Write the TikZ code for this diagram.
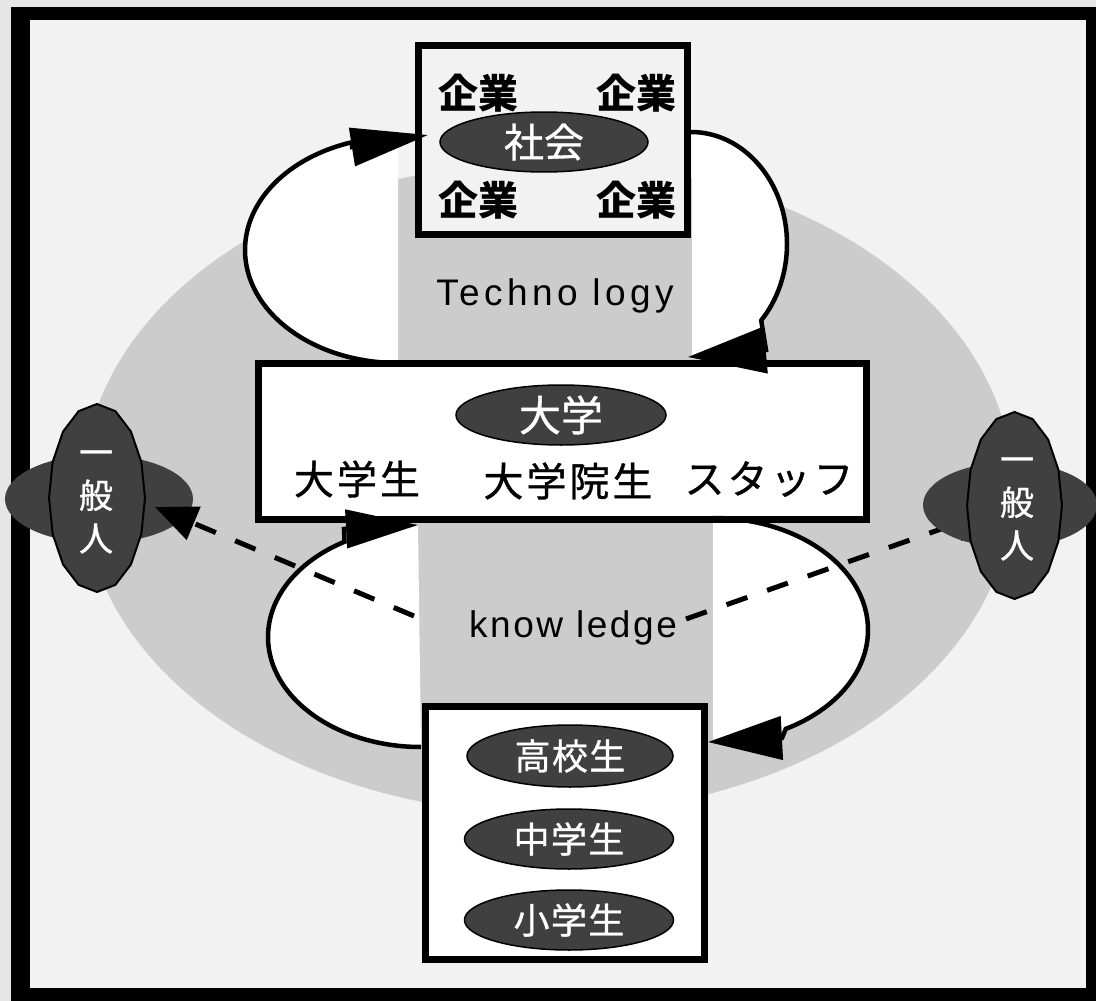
\documentclass[tikz,border=0pt]{standalone}
\usepackage{fontspec}
\usetikzlibrary{arrows.meta,shapes.geometric}
\newfontfamily\jpfont{Noto Sans CJK JP}
\newfontfamily\latfont{Liberation Sans}
\definecolor{bgout}{HTML}{E6E6E6}
\definecolor{bgin}{HTML}{F2F2F2}
\definecolor{ring}{HTML}{CCCCCC}
\definecolor{darkfill}{HTML}{404040}
\begin{document}
\begin{tikzpicture}[x=1pt,y=-1pt,
  box/.style={draw=black,line width=7pt,rectangle,inner sep=0pt},
  oval/.style={draw=black,line width=1.5pt,fill=darkfill,ellipse,inner sep=0pt,text=white},
  loopline/.style={draw=black,line width=4.5pt},
  dashline/.style={draw=black,line width=5pt,dash pattern=on 22pt off 21pt},
  bigjp/.style={font=\jpfont\fontsize{40}{48}\selectfont\addfontfeature{LetterSpace=7.5,FakeBold=0.8}},
  firm/.style={font=\jpfont\bfseries\fontsize{40}{48}\selectfont},
  ovaltext/.style={font=\jpfont\fontsize{36}{44}\selectfont\addfontfeature{LetterSpace=4,FakeBold=0.8}},
  vert/.style={font=\jpfont\fontsize{34}{43}\selectfont\addfontfeature{FakeBold=1},text=white,align=center,inner sep=0pt},
  poly/.style={draw=black,line width=2pt,fill=darkfill},
  flat/.style={draw=none,fill=darkfill,ellipse,inner sep=0pt}
]
\useasboundingbox (0,0) rectangle (1096,1001);
% background and frame
\fill[bgout] (0,0) rectangle (1096,1001);
\fill[black] (11,7) rectangle (1096,1001);
\fill[bgin] (30,20) rectangle (1086,988);
% grey ring
\fill[ring] (548,488) ellipse [x radius=465pt, y radius=326pt];

% loop endpoints (start, arrow base, arrow tip)
\coordinate (t1s) at (398,363);
\coordinate (t1b) at (352,147);
\coordinate (t1e) at (428,135);
\coordinate (t2s) at (691,132);
\coordinate (t2b) at (766,350);
\coordinate (t2e) at (688,357);
\coordinate (b1s) at (421,747);
\coordinate (b1b) at (344,529);
\coordinate (b1e) at (418,525);
\coordinate (b2s) at (713,518);
\coordinate (b2b) at (782,738);
\coordinate (b2e) at (708,742);

\def\arcA{arc[start angle=270,end angle=107.5,x radius=153pt,y radius=113pt]}
\def\arcB{arc[start angle=90,end angle=-43,x radius=96pt,y radius=112pt]}
\def\arcC{arc[start angle=270,end angle=120,x radius=153pt,y radius=110pt]}
\def\arcD{arc[start angle=90,end angle=-62,x radius=155pt,y radius=112pt]}

% white interiors of loops
\begin{scope}
\clip (0,0) rectangle (398,1001);
\fill[white] (t1s) \arcA -- (t1b) -- (t1e) -- cycle;
\end{scope}
\begin{scope}
\clip (692,0) rectangle (1096,1001);
\fill[white] (t2s) \arcB -- (t2b) -- (t2e) -- cycle;
\end{scope}
\begin{scope}
\clip (0,0) rectangle (422,1001);
\fill[white] (b1s) \arcC -- (b1b) -- (b1e) -- cycle;
\end{scope}
\begin{scope}
\clip (713,0) rectangle (1096,1001);
\fill[white] (b2s) \arcD -- (b2b) -- (b2e) -- cycle;
\end{scope}

% boxes
\node[box,fill=bgin,minimum width=269pt,minimum height=189pt] (society) at (553,140) {};
\node[box,fill=white,minimum width=608pt,minimum height=156pt] (univ) at (562.5,441.5) {};
\node[box,fill=white,minimum width=279pt,minimum height=253pt] (school) at (565,833) {};

% society box content
\node[firm] (f1) at (478,93) {企業};
\node[firm] (f2) at (636,93) {企業};
\node[firm] (f3) at (478,200) {企業};
\node[firm] (f4) at (636,200) {企業};
\node[oval,minimum width=208pt,minimum height=60pt,font=\jpfont\fontsize{40}{48}\selectfont\addfontfeature{FakeBold=0.8}] (soc) at (544,142) {社会};

% university box content
\node[oval,minimum width=210pt,minimum height=60pt,font=\jpfont\fontsize{42}{50}\selectfont\addfontfeature{FakeBold=0.8}] (dai) at (561,415) {大学};
\node[bigjp] (u1) at (357,479) {大学生};
\node[bigjp] (u2) at (568,481) {大学院生};
\node[bigjp] (u3) at (769,479) {スタッフ};

% school box content
\node[oval,ovaltext,minimum width=206pt,minimum height=62pt] (hs) at (570,756) {高校生};
\node[oval,ovaltext,minimum width=209pt,minimum height=60pt] (ms) at (569,839) {中学生};
\node[oval,ovaltext,minimum width=209pt,minimum height=60pt] (es) at (569,920) {小学生};

% labels
\node[anchor=base,inner sep=0pt,font=\latfont\fontsize{37}{44}\selectfont\addfontfeature{LetterSpace=12}] (tech) at (555,305) {Techno logy};
\node[anchor=base,inner sep=0pt,font=\latfont\fontsize{37}{44}\selectfont\addfontfeature{LetterSpace=7}] (know) at (573,637) {know ledge};

% loops
\draw[loopline,-{Triangle[length=77pt,width=38pt]}] (t1s) \arcA -- (t1b) -- (t1e);
\draw[loopline,-{Triangle[length=78pt,width=46pt]}] (t2s) \arcB -- (t2b) -- (t2e);
\draw[loopline,-{Triangle[length=72pt,width=38pt]}] (b1s) \arcC -- (b1b) -- (b1e);
\draw[loopline,-{Triangle[length=74pt,width=43pt]}] (b2s) \arcD -- (b2b) -- (b2e);

% right dashed arrow (under the right figure)
\coordinate (kr) at (686,619);
\coordinate (gtipR) at (995,510);
\draw[dashline,-{Triangle[length=42pt,width=35pt]}] (kr) -- (gtipR);

% left general public
\node[flat,minimum width=188pt,minimum height=88pt] (glh) at (99,499) {};
\draw[poly] plot[samples=17,domain=-90:270,variable=\t] ({97+48*cos(\t)},{498+94*sin(\t)}) -- cycle;
\node[vert] (glt) at (96,502) {一\\般\\人};

% right general public
\node[flat,minimum width=174pt,minimum height=85pt] (grh) at (1010,505) {};
\draw[poly] plot[samples=17,domain=-90:270,variable=\t] ({1014.5+47.5*cos(\t)},{505.5+93.5*sin(\t)}) -- cycle;
\node[vert] (grt) at (1017,509) {一\\般\\人};

% left dashed arrow (over the left figure)
\coordinate (kl) at (414,616);
\coordinate (gtipL) at (155,507);
\draw[dashline,-{Triangle[length=42pt,width=35pt]}] (kl) -- (gtipL);
\end{tikzpicture}
\end{document}
